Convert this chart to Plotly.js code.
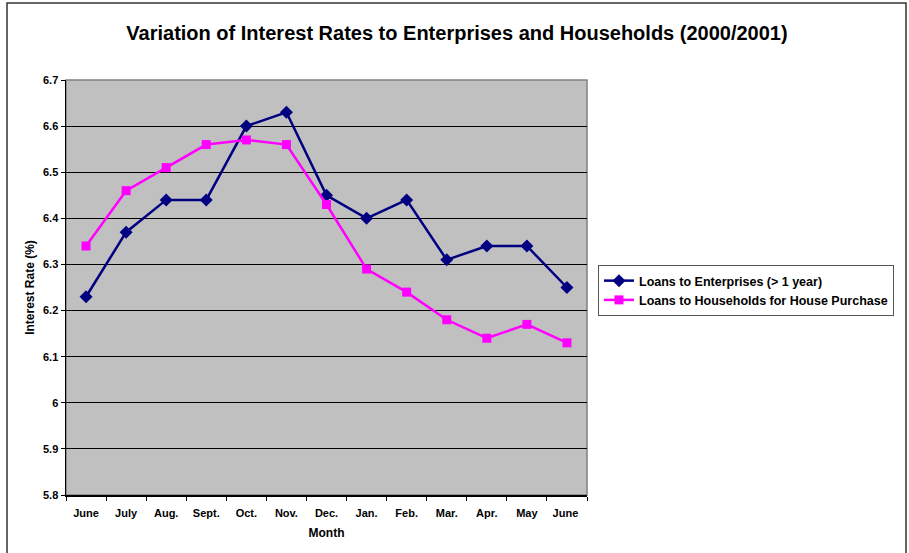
<!DOCTYPE html>
<html>
<head>
<meta charset="utf-8">
<script src="https://cdn.plot.ly/plotly-3.0.1.min.js"></script>
<style>html,body{margin:0;padding:0;background:#fff;}#chart{width:909px;height:553px;}</style>
</head>
<body>
<div id="chart"></div>
<script>
const months = ["June","July","Aug.","Sept.","Oct.","Nov.","Dec.","Jan.","Feb.","Mar.","Apr.","May","June "];
const enterprises = [6.23, 6.37, 6.44, 6.44, 6.60, 6.63, 6.45, 6.40, 6.44, 6.31, 6.34, 6.34, 6.25];
const households = [6.34, 6.46, 6.51, 6.56, 6.57, 6.56, 6.43, 6.29, 6.24, 6.18, 6.14, 6.17, 6.13];
const yTickVals = [5.8, 5.9, 6.0, 6.1, 6.2, 6.3, 6.4, 6.5, 6.6, 6.7];
const yTickText = ["5.8","5.9","6","6.1","6.2","6.3","6.4","6.5","6.6","6.7"];

const FONT = "Arial, 'Liberation Sans', sans-serif";

const traces = [
  {
    x: months, y: enterprises, type: "scatter", mode: "lines+markers",
    name: "Loans to Enterprises (> 1 year)",
    line: {color: "#000080", width: 2.5},
    marker: {symbol: "diamond", size: 10, color: "#000080"}
  },
  {
    x: months, y: households, type: "scatter", mode: "lines+markers",
    name: "Loans to Households for House Purchase",
    line: {color: "#FF00FF", width: 2.5},
    marker: {symbol: "square", size: 9, color: "#FF00FF"}
  }
];

const L = 66, R = 587, T = 80, B = 495, W = 909, H = 553;
const pw = R - L, ph = B - T;
const px = v => (v - L) / pw;
const py = v => (B - v) / ph;

const layout = {
  width: W, height: H,
  margin: {l: L, r: W - R, t: T, b: H - B, pad: 0},
  paper_bgcolor: "#ffffff",
  plot_bgcolor: "#C0C0C0",
  font: {family: FONT, color: "#000", size: 11},
  title: {
    text: "Variation of Interest Rates to Enterprises and Households (2000/2001)",
    font: {family: FONT, size: 20, weight: "bold", color: "#000"},
    xref: "container", yref: "container",
    x: 457 / W, y: 1 - 33 / H, xanchor: "center", yanchor: "middle"
  },
  xaxis: {
    type: "category",
    range: [-0.5, months.length - 0.5],
    tickson: "boundaries",
    ticks: "outside", ticklen: 4, tickcolor: "#000", tickwidth: 1,
    ticklabelstandoff: 7,
    showline: true, linecolor: "#000", linewidth: 1.5,
    showgrid: false, zeroline: false,
    tickfont: {family: FONT, size: 11, weight: "bold", color: "#000"},
    title: {text: "Month", font: {family: FONT, size: 12, weight: "bold", color: "#000"}, standoff: 11}
  },
  yaxis: {
    range: [5.8, 6.7],
    tickmode: "array", tickvals: yTickVals, ticktext: yTickText,
    ticks: "outside", ticklen: 4, tickcolor: "#000", tickwidth: 1,
    showline: true, linecolor: "#000", linewidth: 1.5,
    showgrid: true, gridcolor: "#000", gridwidth: 1,
    zeroline: false,
    tickfont: {family: FONT, size: 11, weight: "bold", color: "#000"},
    title: {text: "Interest Rate (%)", font: {family: FONT, size: 12, weight: "bold", color: "#000"}, standoff: 6}
  },
  legend: {
    x: px(598), y: py(265), xanchor: "left", yanchor: "top",
    bgcolor: "#ffffff", bordercolor: "#555", borderwidth: 1,
    font: {family: FONT, size: 12.5, weight: "bold", color: "#000"},
    tracegroupgap: 0, itemwidth: 30
  },
  showlegend: true,
  shapes: [
    {type: "rect", xref: "paper", yref: "paper", x0: 0, x1: 1, y0: 0, y1: 1,
     line: {color: "#808080", width: 1.5}, fillcolor: "rgba(0,0,0,0)", layer: "below"},
    {type: "rect", xref: "paper", yref: "paper", x0: px(7), x1: px(906), y0: py(3), y1: py(560),
     line: {color: "#333", width: 1.5}, fillcolor: "rgba(0,0,0,0)", layer: "above"}
  ]
};

Plotly.newPlot("chart", traces, layout, {displayModeBar: false, staticPlot: true});
</script>
</body>
</html>
